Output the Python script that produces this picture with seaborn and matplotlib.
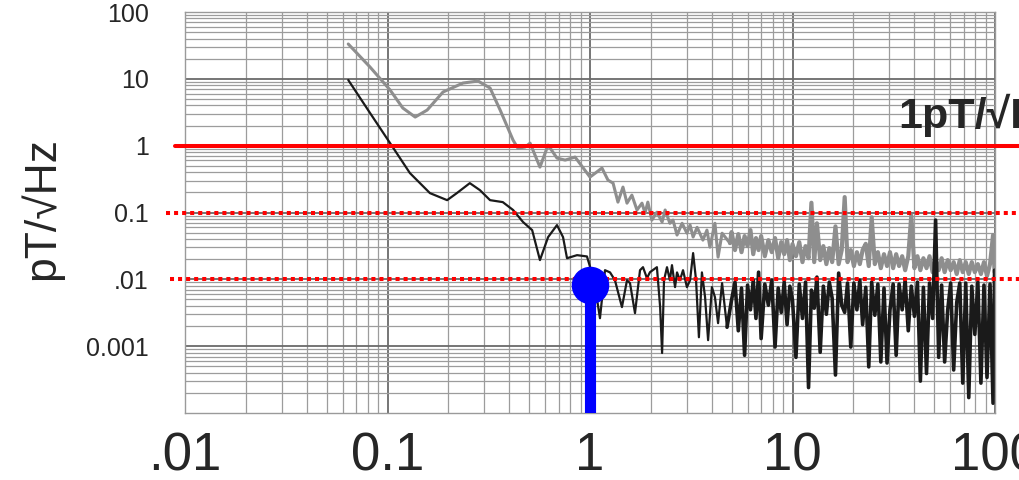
import matplotlib
matplotlib.use("Agg")
import matplotlib.pyplot as plt
import matplotlib.transforms as mtransforms
from matplotlib.ticker import LogLocator, NullFormatter
import pandas as pd
import seaborn as sns

# smooth low-frequency part of the two spectra (Hz, pT/sqrt(Hz))
gray_freq = [0.064, 0.082, 0.103, 0.119, 0.137, 0.157, 0.188, 0.236, 0.28, 0.321,
             0.36, 0.417, 0.44, 0.478, 0.506, 0.566, 0.621, 0.687, 0.754, 0.844,
             1.0, 1.146, 1.227, 1.30, 1.374, 1.455, 1.523, 1.61, 1.706, 1.806,
             1.87, 1.93, 2.02, 2.14, 2.27, 2.35, 2.48, 2.57, 2.69, 2.85,
             3.01, 3.12, 3.23, 3.38, 3.61, 3.78, 3.91, 4.14, 4.29, 4.49, 4.91]
gray_level = [33.2, 15.0, 6.8, 3.66, 2.68, 3.41, 6.35, 8.65, 9.27, 7.28,
              3.41, 1.21, 0.92, 0.953, 1.09, 0.478, 1.02, 0.652, 0.608, 0.675,
              0.339, 0.462, 0.305, 0.275, 0.143, 0.24, 0.138, 0.182, 0.109, 0.138,
              0.098, 0.143, 0.077, 0.101, 0.072, 0.109, 0.069, 0.077, 0.046, 0.069,
              0.049, 0.065, 0.043, 0.060, 0.0386, 0.0545, 0.0303, 0.069, 0.0215, 0.049, 0.0348]

black_freq = [0.064, 0.082, 0.103, 0.129, 0.162, 0.197, 0.220, 0.255, 0.286, 0.321,
              0.371, 0.417, 0.467, 0.518, 0.566, 0.621, 0.687, 0.736, 0.77, 0.863,
              0.966, 1.047, 1.12, 1.186, 1.256, 1.328, 1.438, 1.523, 1.576, 1.668,
              1.766, 1.827, 1.911, 1.978, 2.14, 2.22, 2.27, 2.32, 2.40, 2.48,
              2.54, 2.63, 2.69, 2.78, 2.88, 3.01, 3.12, 3.23, 3.34, 3.45,
              3.57, 3.70, 3.83, 4.00, 4.14, 4.29, 4.49, 4.75]
black_level = [9.6, 3.08, 1.09, 0.389, 0.195, 0.153, 0.195, 0.275, 0.216, 0.153,
               0.143, 0.109, 0.072, 0.0545, 0.0194, 0.0428, 0.0648, 0.0428, 0.0207, 0.023,
               0.022, 0.0097, 0.00262, 0.0137, 0.0127, 0.0097, 0.00384, 0.0097, 0.00877, 0.00312,
               0.0137, 0.0152, 0.0104, 0.0128, 0.0152, 0.00384, 0.00079, 0.0097, 0.0152, 0.0097,
               0.0163, 0.00764, 0.0127, 0.0097, 0.0137, 0.00764, 0.0097, 0.0247, 0.0097, 0.00136,
               0.0127, 0.00542, 0.00123, 0.00764, 0.00542, 0.00221, 0.00877, 0.00192]

# noisy high-frequency part, both traces share these bins
noise_freq = [5.0, 5.2, 5.4, 5.6, 5.8, 6.0, 6.2, 6.4, 6.6, 6.8,
              7.0, 7.3, 7.6, 7.9, 8.2, 8.5, 8.8, 9.1, 9.4, 9.7,
              10.0, 10.4, 10.8, 11.2, 11.6, 12.0, 12.4, 12.8, 13.2, 13.7,
              14.2, 14.7, 15.2, 15.7, 16.3, 16.9, 17.5, 18.1, 18.7, 19.4,
              20.1, 20.8, 21.5, 22.2, 23.0, 23.8, 24.6, 25.5, 26.4, 27.3,
              28.3, 29.3, 30.3, 31.4, 32.5, 33.6, 34.8, 36.0, 37.3, 38.6,
              40.0, 41.4, 42.8, 44.3, 45.9, 47.5, 49.2, 50.9, 52.7, 54.5,
              56.4, 58.4, 60.4, 62.5, 64.7, 67.0, 69.3, 71.7, 74.2, 76.8,
              79.5, 82.3, 85.2, 88.2, 91.3, 94.5, 97.8, 99.5]
gray_noise = [0.0509, 0.0274, 0.0475, 0.0255, 0.0444, 0.0314, 0.0545, 0.0238, 0.0414, 0.0274,
              0.0444, 0.0222, 0.0386, 0.0255, 0.0414, 0.0207, 0.036, 0.0238, 0.0386, 0.0194,
              0.0337, 0.0222, 0.036, 0.0181, 0.0314, 0.0207, 0.14, 0.0181, 0.069, 0.0194,
              0.0314, 0.0169, 0.0293, 0.0181, 0.062, 0.0169, 0.0274, 0.17, 0.0181, 0.0274,
              0.0158, 0.0255, 0.0169, 0.0274, 0.034, 0.0158, 0.085, 0.0169, 0.0255, 0.0147,
              0.0238, 0.0158, 0.0255, 0.0147, 0.0238, 0.0158, 0.0222, 0.0137, 0.0222, 0.09,
              0.0147, 0.0222, 0.0137, 0.0207, 0.0147, 0.0222, 0.0128, 0.0194, 0.0137, 0.0207,
              0.0128, 0.0194, 0.0137, 0.0181, 0.012, 0.0194, 0.0128, 0.0181, 0.012, 0.0181,
              0.0128, 0.0169, 0.012, 0.0181, 0.0112, 0.0169, 0.046, 0.0128]
black_noise = [0.0049, 0.0091, 0.0017, 0.0074, 0.00073, 0.0082, 0.0035, 0.0097, 0.0026, 0.0128,
               0.0013, 0.0085, 0.0041, 0.0097, 0.00097, 0.0074, 0.0032, 0.0091, 0.0021, 0.0079,
               0.0049, 0.00068, 0.0085, 0.0026, 0.0091, 0.00024, 0.0069, 0.0037, 0.0108, 0.00081,
               0.0079, 0.0030, 0.0091, 0.0052, 0.00037, 0.0124, 0.0041, 0.0032, 0.0088, 0.00097,
               0.0088, 0.0035, 0.0097, 0.0021, 0.0076, 0.00049, 0.0091, 0.0029, 0.0085, 0.00058,
               0.0074, 0.00056, 0.0035, 0.0085, 0.00073, 0.0085, 0.0035, 0.0097, 0.0017, 0.0079,
               0.0028, 0.0091, 0.0003, 0.0076, 0.00039, 0.0088, 0.0026, 0.077, 0.00068, 0.0082,
               0.00058, 0.0035, 0.0088, 0.00044, 0.0045, 0.0088, 0.00028, 0.0088, 0.00017, 0.0079,
               0.0015, 0.0091, 0.00028, 0.0082, 0.00034, 0.0085, 0.00014, 0.0137]

ref_levels = [1, 0.1, 0.01]
marker_freq = [1.0]
marker_level = [0.0082]

x_ticks = [0.01, 0.1, 1, 10, 100]
x_labels = [".01", "0.1", "1", "10", "100"]
y_ticks = [100, 10, 1, 0.1, 0.01, 0.001]
y_labels = ["100", "10", "1", "0.1", ".01", "0.001"]

sns.set_style("white")
plt.rcParams["font.family"] = ["Liberation Sans", "DejaVu Sans"]

gray_smooth = pd.DataFrame({"freq": gray_freq, "level": gray_level})
black_smooth = pd.DataFrame({"freq": black_freq, "level": black_level})
# noisy parts start from the last smooth point so the traces stay joined
gray_hf = pd.DataFrame({"freq": gray_freq[-1:] + noise_freq,
                        "level": gray_level[-1:] + gray_noise})
black_hf = pd.DataFrame({"freq": black_freq[-1:] + noise_freq,
                         "level": black_level[-1:] + black_noise})

fig = plt.figure(figsize=(10.19, 4.8), dpi=100)
ax = fig.add_axes([185 / 1019, 1 - 413 / 480, 810 / 1019, 401 / 480])
ax.set_xscale("log")
ax.set_yscale("log")

gray_c = "#8e8e8e"
black_c = "#1a1a1a"
sns.lineplot(data=gray_smooth, x="freq", y="level", color=gray_c, lw=2.2,
             estimator=None, ax=ax)
sns.lineplot(data=gray_hf, x="freq", y="level", color=gray_c, lw=3.0,
             estimator=None, ax=ax)
sns.lineplot(data=black_smooth, x="freq", y="level", color=black_c, lw=1.6,
             estimator=None, ax=ax)
sns.lineplot(data=black_hf, x="freq", y="level", color=black_c, lw=2.6,
             estimator=None, ax=ax)

ax.set_xlim(0.01, 100)
ax.set_ylim(1e-4, 100)

# dense log-paper grid
subs = [2, 3, 4, 5, 6, 7, 8, 9]
ax.xaxis.set_minor_locator(LogLocator(base=10, subs=subs, numticks=20))
ax.yaxis.set_minor_locator(LogLocator(base=10, subs=subs, numticks=20))
ax.xaxis.set_minor_formatter(NullFormatter())
ax.yaxis.set_minor_formatter(NullFormatter())
ax.grid(which="major", color="#6a6a6a", lw=1.3)
ax.grid(which="minor", color="#9c9c9c", lw=0.9)
ax.set_axisbelow(True)
for s in ax.spines.values():
    s.set_color("#9a9a9a")
    s.set_linewidth(1.0)

ax.set_xticks(x_ticks)
ax.set_xticklabels(x_labels)
ax.set_yticks(y_ticks)
ax.set_yticklabels(y_labels)
ax.tick_params(axis="x", which="both", length=0, labelsize=38, pad=13)
ax.tick_params(axis="y", which="both", length=0, labelsize=18, pad=26)

ax.set_xlabel("")
ax.set_ylabel("pT/√Hz", fontsize=32)
ax.yaxis.set_label_coords(-0.15, 0.51)

# reference levels reach from the labels to the right edge
trans = mtransforms.blended_transform_factory(fig.transFigure, ax.transData)
starts = [175 / 1019, 166 / 1019, 170 / 1019]
styles = ["-", (0, (1, 1)), (0, (1, 1))]
for lev, x0, ls in zip(ref_levels, starts, styles):
    ax.plot([x0, 1.0], [lev, lev], transform=trans, color="#ff0000", lw=2.9,
            ls=ls, clip_on=False, zorder=5)

# blue marker at 1 Hz
ax.vlines(marker_freq, ax.get_ylim()[0], marker_level, color="#0000ff", lw=8, zorder=6)
ax.plot(marker_freq, marker_level, "o", color="#0000ff", ms=26, zorder=7)

fig.text(898 / 1019, 1 - 128 / 480, "1pT/√Hz", fontsize=31, fontweight="bold",
         ha="left", va="baseline")

fig.savefig("out.png", dpi=100)
